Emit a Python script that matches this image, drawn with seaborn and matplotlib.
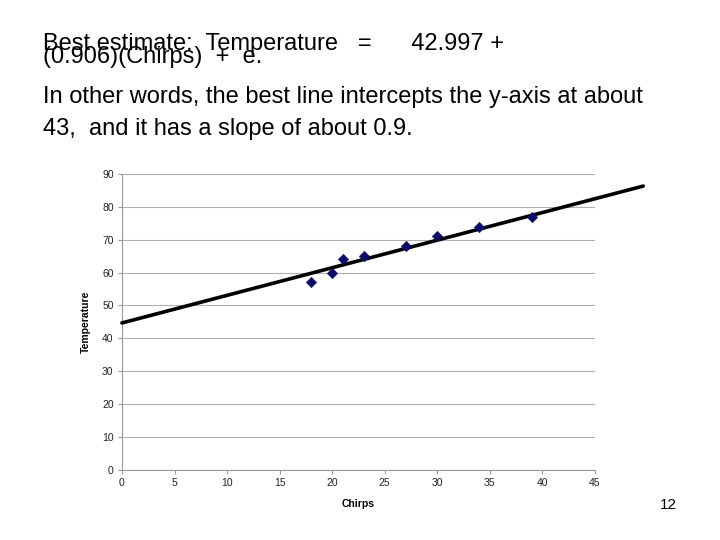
import matplotlib
matplotlib.use("Agg")
import matplotlib.pyplot as plt
import seaborn as sns
import pandas as pd

chirps = [18, 20, 21, 23, 27, 30, 34, 39]
temperature = [57, 60, 64, 65, 68, 71, 74, 77]
fit_x = [0, 49.6]
fit_y = [44.7, 86.3]
x_ticks = [0, 5, 10, 15, 20, 25, 30, 35, 40, 45]
y_ticks = [0, 10, 20, 30, 40, 50, 60, 70, 80, 90]

sns.set_style("white")
plt.rcParams['font.family'] = ['Liberation Sans', 'DejaVu Sans']
plt.rcParams['text.color'] = 'black'
plt.rcParams['axes.labelcolor'] = 'black'
plt.rcParams['xtick.color'] = 'black'
plt.rcParams['ytick.color'] = 'black'

fig = plt.figure(figsize=(7.2, 5.4), dpi=100)
ax = fig.add_axes([0.1694, 0.1296, 0.6569, 0.5484])

df = pd.DataFrame({"Chirps": chirps, "Temperature": temperature})
line_df = pd.DataFrame({"x": fit_x, "y": fit_y})

sns.lineplot(data=line_df, x="x", y="y", ax=ax, color="black", linewidth=2.6,
             clip_on=False, zorder=3)
sns.scatterplot(data=df, x="Chirps", y="Temperature", ax=ax, marker="D",
                color="#0c0c66", s=28, edgecolor="#0c0c66", zorder=4, clip_on=False)

ax.set_xlim(0, 45)
ax.set_ylim(0, 90)
ax.set_xticks(x_ticks)
ax.set_yticks(y_ticks)
ax.yaxis.grid(True, color="#b0b0b0", linewidth=0.8)
ax.xaxis.grid(False)
for s in ["top", "right"]:
    ax.spines[s].set_visible(False)
for s in ["left", "bottom"]:
    ax.spines[s].set_color("#9a9a9a")
    ax.spines[s].set_linewidth(0.8)
ax.tick_params(axis="both", labelsize=7.5, length=3, color="#9a9a9a", width=0.8,
               labelcolor="#222222", direction="out", pad=3, bottom=True, left=True)
ax.set_xlabel("Chirps", fontsize=7.5, fontweight="bold", labelpad=8)
ax.set_ylabel("Temperature", fontsize=7.5, fontweight="bold", labelpad=8)

fs = 17
fig.text(43/720, 1-50/540, "Best estimate:  Temperature   =      42.997 +", fontsize=fs)
fig.text(43/720, 1-63/540, "(0.906)(Chirps)  +  e.", fontsize=fs)
fig.text(43/720, 1-103/540, "In other words, the best line intercepts the y-axis at about", fontsize=fs)
fig.text(43/720, 1-135/540, "43,  and it has a slope of about 0.9.", fontsize=fs)
fig.text(677/720, 1-509/540, "12", fontsize=11, ha="right")

fig.savefig("out.png", dpi=100)
